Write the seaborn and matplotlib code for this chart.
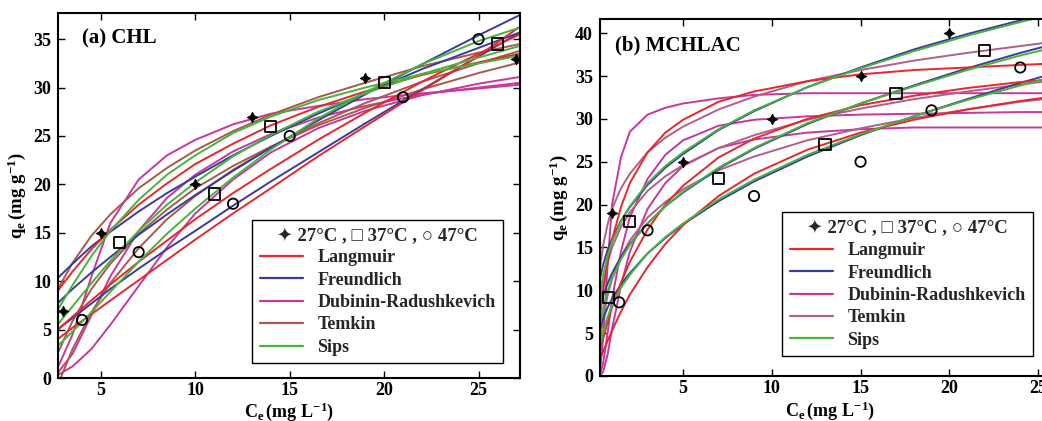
import numpy as np
import pandas as pd
import matplotlib
matplotlib.use("Agg")
import matplotlib.pyplot as plt
import seaborn as sns
from matplotlib.lines import Line2D

# ---------------- data: panel (a) CHL ----------------
a_x = [2.7, 3.5, 4.5, 5.5, 7, 8.5, 10, 12, 14, 16.5, 19, 22, 25, 27.2]

a_lang_27 = [8.96, 11.0, 13.3, 15.3, 17.9, 20.1, 22.1, 24.2, 26.1, 28.0, 29.6, 31.3, 32.6, 33.5]
a_lang_37 = [4.96, 6.35, 8.03, 9.66, 12.0, 14.2, 16.4, 19.1, 21.6, 24.6, 27.4, 30.6, 33.5, 35.5]
a_lang_47 = [4.0, 5.2, 6.6, 8.0, 10.1, 12.2, 14.3, 17.0, 19.6, 22.9, 26.0, 29.7, 33.3, 36.3]
a_freu_27 = [10.3, 11.8, 13.6, 15.1, 17.2, 19.1, 20.8, 23.0, 25.0, 27.3, 29.4, 31.9, 34.1, 35.7]
a_freu_37 = [7.7, 9.2, 10.9, 12.5, 14.8, 16.9, 18.9, 21.4, 23.8, 26.6, 29.3, 32.4, 35.4, 37.5]
a_freu_47 = [5.0, 6.2, 7.7, 9.2, 11.3, 13.3, 15.2, 17.8, 20.3, 23.3, 26.3, 29.8, 33.2, 35.7]
a_dr_27 = [1.0, 4.5, 10.5, 16.0, 20.5, 23.0, 24.6, 26.2, 27.3, 28.1, 28.8, 29.4, 29.9, 30.3]
a_dr_37 = [0.3, 1.2, 3.0, 5.5, 9.5, 13.5, 17.0, 20.5, 23.3, 25.8, 27.6, 29.2, 30.4, 31.1]
a_dr_47 = [0.5, 2.5, 6.5, 10.5, 15.2, 18.6, 21.0, 23.4, 25.2, 26.9, 28.1, 29.3, 30.0, 30.5]
a_temk_27 = [9.1, 11.9, 14.7, 16.9, 19.6, 21.7, 23.5, 25.5, 27.2, 29.0, 30.5, 32.2, 33.6, 34.5]
a_temk_37 = [2.5, 5.9, 9.2, 11.8, 14.9, 17.4, 19.6, 21.9, 23.9, 26.1, 27.9, 29.8, 31.5, 32.6]
a_temk_47 = [-0.8, 3.0, 6.8, 9.8, 13.4, 16.4, 18.8, 21.5, 23.8, 26.3, 28.4, 30.6, 32.5, 33.8]
a_sips_27 = [7.0, 9.6, 12.6, 15.2, 18.4, 21.0, 23.0, 25.3, 27.0, 28.7, 30.0, 31.4, 32.5, 33.3]
a_sips_37 = [5.5, 7.4, 9.8, 12.1, 15.2, 17.9, 20.2, 22.9, 25.1, 27.5, 29.4, 31.4, 33.1, 34.3]
a_sips_47 = [3.3, 4.8, 6.8, 8.9, 12.0, 14.9, 17.5, 20.7, 23.6, 26.8, 29.5, 32.4, 34.8, 36.2]

a_ce_27 = [3, 5, 10, 13, 19, 27]
a_qe_27 = [6.9, 15, 20, 27, 31, 33]
a_ce_37 = [6, 11, 14, 20, 26]
a_qe_37 = [14, 19, 26, 30.5, 34.5]
a_ce_47 = [4, 7, 12, 15, 21, 25]
a_qe_47 = [6, 13, 18, 25, 29, 35]

# ---------------- data: panel (b) MCHLAC ----------------
b_x = [0.32, 0.5, 0.75, 1, 1.5, 2, 3, 4, 5, 7, 9, 12, 15, 18, 21, 24, 26.2]

b_lang_27 = [7.0, 10.0, 13.3, 15.9, 19.7, 22.5, 26.1, 28.4, 29.9, 32.0, 33.2, 34.4, 35.2, 35.7, 36.0, 36.3, 36.5]
b_lang_37 = [3.0, 4.4, 6.3, 8.0, 10.9, 13.3, 17.1, 20.0, 22.2, 25.5, 27.7, 30.0, 31.6, 32.7, 33.6, 34.3, 34.7]
b_lang_47 = [1.9, 2.9, 4.1, 5.3, 7.5, 9.5, 12.7, 15.4, 17.6, 21.0, 23.6, 26.4, 28.4, 29.9, 31.1, 32.1, 32.7]
b_freu_27 = [11.4, 13.0, 14.7, 16.0, 18.1, 19.7, 22.3, 24.3, 25.9, 28.7, 30.9, 33.7, 36.0, 38.1, 39.9, 41.5, 42.6]
b_freu_37 = [8.0, 9.4, 10.8, 12.0, 13.9, 15.4, 17.8, 19.8, 21.4, 24.2, 26.5, 29.4, 31.8, 33.9, 35.9, 37.7, 38.9]
b_freu_47 = [5.6, 6.7, 8.0, 9.0, 10.7, 12.0, 14.3, 16.1, 17.7, 20.4, 22.7, 25.6, 28.1, 30.3, 32.3, 34.2, 35.5]
b_dr_27 = [0.5, 4.5, 13.0, 20.0, 25.5, 28.5, 30.5, 31.3, 31.8, 32.4, 32.8, 33.0, 33.0, 33.0, 33.0, 33.0, 33.0]
b_dr_37 = [0.2, 1.5, 5.0, 9.0, 14.5, 18.5, 23.0, 25.8, 27.5, 29.2, 29.9, 30.3, 30.5, 30.6, 30.7, 30.8, 30.8]
b_dr_47 = [0.0, 0.5, 2.5, 5.5, 10.5, 14.5, 19.5, 22.5, 24.5, 26.6, 27.6, 28.4, 28.8, 29.0, 29.0, 29.0, 29.0]
b_temk_27 = [12.6, 15.3, 17.7, 19.5, 21.9, 23.6, 26.1, 27.8, 29.1, 31.1, 32.6, 34.4, 35.7, 36.8, 37.7, 38.5, 39.1]
b_temk_37 = [8.1, 10.8, 13.2, 15.0, 17.4, 19.1, 21.6, 23.3, 24.6, 26.6, 28.1, 29.9, 31.2, 32.3, 33.2, 34.0, 34.6]
b_temk_47 = [3.9, 6.8, 9.4, 11.3, 13.9, 15.8, 18.5, 20.3, 21.8, 24.0, 25.6, 27.5, 28.9, 30.1, 31.1, 32.0, 32.5]
b_sips_27 = [9.5, 11.8, 14.0, 15.6, 18.0, 19.8, 22.5, 24.5, 26.1, 28.8, 31.0, 33.7, 35.9, 37.9, 39.7, 41.3, 42.4]
b_sips_37 = [6.0, 7.9, 9.9, 11.4, 13.6, 15.3, 17.8, 19.8, 21.5, 24.3, 26.6, 29.5, 31.8, 33.8, 35.7, 37.4, 38.5]
b_sips_47 = [3.5, 5.1, 6.9, 8.3, 10.3, 11.8, 14.3, 16.2, 17.8, 20.6, 22.9, 25.8, 28.2, 30.3, 32.2, 33.9, 35.1]

b_ce_27 = [1, 5, 10, 15, 20]
b_qe_27 = [19, 25, 30, 35, 40]
b_ce_37 = [0.8, 2, 7, 13, 17, 22]
b_qe_37 = [9.2, 18, 23, 27, 33, 38]
b_ce_47 = [1.4, 3, 9, 15, 19, 24]
b_qe_47 = [8.6, 17, 21, 25, 31, 36]

models = ["Langmuir", "Freundlich", "Dubinin-Radushkevich", "Temkin", "Sips"]
temps = ["27", "37", "47"]
legend_title = "\u2726 27\u00b0C , \u25a1 37\u00b0C , \u25cb 47\u00b0C"

# ---------------- style ----------------
sns.set_theme(style="ticks")
plt.rcParams["font.family"] = ["Liberation Serif", "DejaVu Sans"]
plt.rcParams["font.weight"] = "bold"
plt.rcParams["mathtext.fontset"] = "custom"
plt.rcParams["mathtext.rm"] = "Liberation Serif:bold"
plt.rcParams["mathtext.it"] = "Liberation Serif:bold"
plt.rcParams["mathtext.bf"] = "Liberation Serif:bold"


def build(x, series):
    rows = []
    for (model, temp), vals in series.items():
        for xi, yi in zip(x, vals):
            rows.append((model, temp, xi, yi))
    return pd.DataFrame(rows, columns=["model", "temp", "Ce", "qe"])


a_df = build(a_x, {
    ("Langmuir", "27"): a_lang_27, ("Langmuir", "37"): a_lang_37, ("Langmuir", "47"): a_lang_47,
    ("Freundlich", "27"): a_freu_27, ("Freundlich", "37"): a_freu_37, ("Freundlich", "47"): a_freu_47,
    ("Dubinin-Radushkevich", "27"): a_dr_27, ("Dubinin-Radushkevich", "37"): a_dr_37,
    ("Dubinin-Radushkevich", "47"): a_dr_47,
    ("Temkin", "27"): a_temk_27, ("Temkin", "37"): a_temk_37, ("Temkin", "47"): a_temk_47,
    ("Sips", "27"): a_sips_27, ("Sips", "37"): a_sips_37, ("Sips", "47"): a_sips_47,
})
b_df = build(b_x, {
    ("Langmuir", "27"): b_lang_27, ("Langmuir", "37"): b_lang_37, ("Langmuir", "47"): b_lang_47,
    ("Freundlich", "27"): b_freu_27, ("Freundlich", "37"): b_freu_37, ("Freundlich", "47"): b_freu_47,
    ("Dubinin-Radushkevich", "27"): b_dr_27, ("Dubinin-Radushkevich", "37"): b_dr_37,
    ("Dubinin-Radushkevich", "47"): b_dr_47,
    ("Temkin", "27"): b_temk_27, ("Temkin", "37"): b_temk_37, ("Temkin", "47"): b_temk_47,
    ("Sips", "27"): b_sips_27, ("Sips", "37"): b_sips_37, ("Sips", "47"): b_sips_47,
})

pal_a = {"Langmuir": "#e8262c", "Freundlich": "#3a3c9c", "Dubinin-Radushkevich": "#c8379e",
         "Temkin": "#a8584c", "Sips": "#46b43c"}
pal_b = {"Langmuir": "#e8262c", "Freundlich": "#3a3c9c", "Dubinin-Radushkevich": "#c8379e",
         "Temkin": "#b45e8a", "Sips": "#46b43c"}
draw_order = ["Dubinin-Radushkevich", "Temkin", "Freundlich", "Langmuir", "Sips"]

fig = plt.figure(figsize=(10.42, 4.21), dpi=100)
ax1 = fig.add_axes([0.0557, 0.1021, 0.4434, 0.8670])
ax2 = fig.add_axes([0.5758, 0.1069, 0.4415, 0.8480])


def panel(ax, df, pal, pts, xlim, ylim, yticks, title, tpos, leg_anchor, ylab_x, xlab_y):
    sns.lineplot(data=df, x="Ce", y="qe", hue="model", units="temp", estimator=None,
                 sort=False, hue_order=draw_order, palette=pal, lw=1.4,
                 legend=False, ax=ax)
    (c27, q27), (c37, q37), (c47, q47) = pts
    sns.scatterplot(x=c27, y=q27, marker=(4, 1, 0), s=60, color="black",
                    edgecolor="black", linewidth=0.5, zorder=6, ax=ax)
    sns.scatterplot(x=c37, y=q37, marker="s", s=65, facecolor="none",
                    edgecolor="black", linewidth=1.3, zorder=6, ax=ax)
    sns.scatterplot(x=c47, y=q47, marker="o", s=55, facecolor="none",
                    edgecolor="black", linewidth=1.3, zorder=6, ax=ax)
    ax.set_xlim(*xlim)
    ax.set_ylim(*ylim)
    ax.set_xticks([5, 10, 15, 20, 25])
    ax.set_yticks(yticks)
    ax.tick_params(direction="in", top=True, right=True, length=5, width=1.0,
                   labelsize=13, colors="black", pad=5)
    ax.tick_params(axis="x", pad=3)
    for lab in ax.get_xticklabels() + ax.get_yticklabels():
        lab.set_fontweight("bold")
    for sp in ax.spines.values():
        sp.set_visible(True)
        sp.set_color("black")
        sp.set_linewidth(1.5)
    ax.set_xlabel(r"$\mathrm{C_e\,(mg\ L^{-1})}$", fontsize=13, color="black")
    ax.set_ylabel(r"$\mathrm{q_e\,(mg\ g^{-1})}$", fontsize=13.5, color="black")
    ax.xaxis.set_label_coords(0.5, xlab_y)
    ax.yaxis.set_label_coords(ylab_x, 0.5)
    ax.text(tpos[0], tpos[1], title, transform=ax.transAxes, fontsize=15,
            fontweight="bold", va="center", ha="left", color="black")
    handles = [Line2D([], [], color=pal[m], lw=1.6) for m in models]
    leg = ax.legend(handles, models, title=legend_title, loc="lower right",
                    bbox_to_anchor=leg_anchor, frameon=True, fancybox=False,
                    edgecolor="black", framealpha=1,
                    prop=dict(family=["Liberation Serif"], weight="bold", size=13),
                    title_fontproperties=dict(family=["Liberation Serif", "DejaVu Sans"],
                                              weight="bold", size=13.5),
                    handlelength=2.4, handletextpad=0.8, labelspacing=0.3,
                    borderaxespad=0, borderpad=0.4)
    leg.get_frame().set_linewidth(1.0)
    leg.set_zorder(10)


panel(ax1, a_df, pal_a, [(a_ce_27, a_qe_27), (a_ce_37, a_qe_37), (a_ce_47, a_qe_47)],
      (2.73, 27.2), (0, 37.7), [0, 5, 10, 15, 20, 25, 30, 35], "(a) CHL",
      (0.052, 0.93), (0.963, 0.041), -0.065, -0.061)
panel(ax2, b_df, pal_b, [(b_ce_27, b_qe_27), (b_ce_37, b_qe_37), (b_ce_47, b_qe_47)],
      (0.32, 26.24), (0, 41.66), [0, 5, 10, 15, 20, 25, 30, 35, 40], "(b) MCHLAC",
      (0.033, 0.927), (0.941, 0.056), -0.065, -0.065)

fig.savefig("out.png", dpi=100)
